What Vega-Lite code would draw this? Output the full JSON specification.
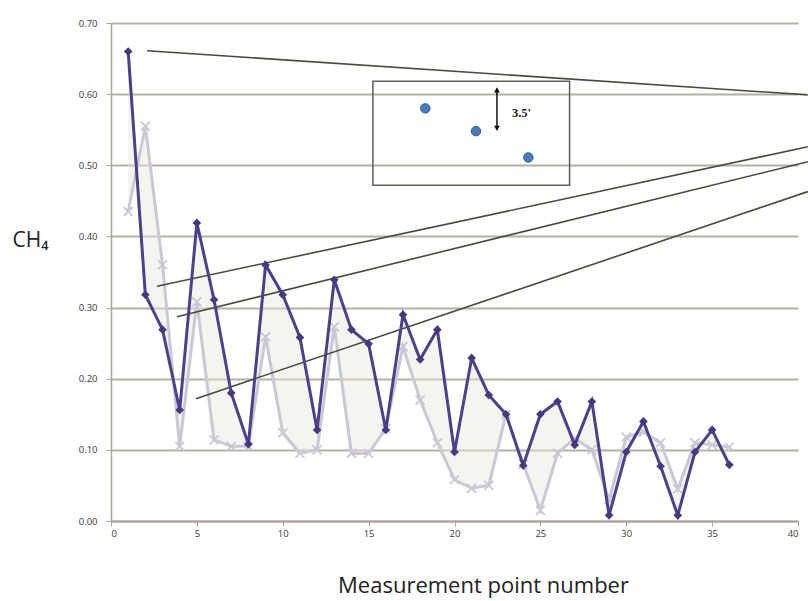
{
  "$schema": "https://vega.github.io/schema/vega-lite/v6.json",
  "width": 687,
  "height": 498,
  "autosize": "none",
  "padding": {"left": 111, "top": 23, "right": 10, "bottom": 80},
  "background": "white",
  "config": {
    "view": {"stroke": null},
    "font": "Open Sans"
  },
  "datasets": {
    "series": [
      {"point": 1, "a": 0.66, "b": 0.435},
      {"point": 2, "a": 0.318, "b": 0.555},
      {"point": 3, "a": 0.269, "b": 0.36},
      {"point": 4, "a": 0.156, "b": 0.105},
      {"point": 5, "a": 0.419, "b": 0.308},
      {"point": 6, "a": 0.311, "b": 0.114},
      {"point": 7, "a": 0.18, "b": 0.105},
      {"point": 8, "a": 0.108, "b": 0.105},
      {"point": 9, "a": 0.36, "b": 0.259},
      {"point": 10, "a": 0.318, "b": 0.124},
      {"point": 11, "a": 0.258, "b": 0.095},
      {"point": 12, "a": 0.128, "b": 0.1},
      {"point": 13, "a": 0.339, "b": 0.273},
      {"point": 14, "a": 0.269, "b": 0.095},
      {"point": 15, "a": 0.249, "b": 0.095},
      {"point": 16, "a": 0.128, "b": 0.13},
      {"point": 17, "a": 0.29, "b": 0.245},
      {"point": 18, "a": 0.227, "b": 0.17},
      {"point": 19, "a": 0.269, "b": 0.11},
      {"point": 20, "a": 0.097, "b": 0.058},
      {"point": 21, "a": 0.229, "b": 0.046},
      {"point": 22, "a": 0.177, "b": 0.05},
      {"point": 23, "a": 0.15, "b": 0.15},
      {"point": 24, "a": 0.078, "b": 0.08},
      {"point": 25, "a": 0.15, "b": 0.015},
      {"point": 26, "a": 0.168, "b": 0.095},
      {"point": 27, "a": 0.107, "b": 0.116},
      {"point": 28, "a": 0.168, "b": 0.1},
      {"point": 29, "a": 0.008, "b": 0.03},
      {"point": 30, "a": 0.097, "b": 0.118},
      {"point": 31, "a": 0.14, "b": 0.125},
      {"point": 32, "a": 0.077, "b": 0.11},
      {"point": 33, "a": 0.008, "b": 0.045},
      {"point": 34, "a": 0.097, "b": 0.11},
      {"point": 35, "a": 0.128, "b": 0.107},
      {"point": 36, "a": 0.079, "b": 0.104}
    ],
    "leaders": [
      {"x": 2.1, "y": 0.661, "x2": 40.57, "y2": 0.599},
      {"x": 2.68, "y": 0.33, "x2": 40.57, "y2": 0.526},
      {"x": 3.84, "y": 0.287, "x2": 40.57, "y2": 0.505},
      {"x": 4.95, "y": 0.172, "x2": 40.57, "y2": 0.463}
    ],
    "box": [{"x": 15.25, "x2": 26.7, "y": 0.618, "y2": 0.472}],
    "dots": [
      {"x": 18.3, "y": 0.58},
      {"x": 21.25, "y": 0.548},
      {"x": 24.3, "y": 0.511}
    ],
    "arrow": [{"x": 22.47, "y": 0.608, "y2": 0.55}],
    "heads": [
      {"x": 22.47, "y": 0.606, "dir": "triangle-up"},
      {"x": 22.47, "y": 0.552, "dir": "triangle-down"}
    ],
    "label": [{"x": 23.9, "y": 0.574, "t": "3.5'"}]
  },
  "layer": [
    {
      "data": {"name": "series"},
      "mark": {"type": "area", "color": "#ebe7dc", "opacity": 0.45},
      "encoding": {
        "x": {
          "field": "point", "type": "quantitative",
          "scale": {"domain": [0, 40], "nice": false},
          "axis": {
            "values": [0, 5, 10, 15, 20, 25, 30, 35, 40],
            "grid": false,
            "domainColor": "#aaa596", "domainWidth": 2,
            "tickColor": "#aaa596", "tickSize": 5, "tickWidth": 1,
            "labelFont": "Open Sans", "labelFontSize": 9.5, "labelColor": "#3a3a3a",
            "labelPadding": 2,
            "title": "Measurement point number",
            "titleFont": "Open Sans", "titleFontSize": 22, "titleFontWeight": "normal",
            "titleColor": "#222222",
            "titleX": 372, "titleY": 71, "titleAlign": "center", "titleBaseline": "alphabetic"
          }
        },
        "y": {
          "field": "a", "type": "quantitative",
          "scale": {"domain": [0, 0.7], "nice": false},
          "axis": {
            "values": [0, 0.1, 0.2, 0.3, 0.4, 0.5, 0.6, 0.7],
            "format": ".2f",
            "grid": true, "gridColor": "#b5b0a1", "gridWidth": 2,
            "domainColor": "#aaa596", "domainWidth": 1.5,
            "tickColor": "#aaa596", "tickSize": 5, "tickWidth": 1,
            "labelFont": "Open Sans", "labelFontSize": 9.5, "labelColor": "#3a3a3a",
            "labelPadding": 9,
            "title": "CH₄",
            "titleFont": "Open Sans", "titleFontSize": 21, "titleFontWeight": "normal",
            "titleColor": "#222222", "titleAngle": 0,
            "titleX": -99, "titleY": 217, "titleAlign": "left", "titleBaseline": "middle"
          }
        },
        "y2": {"field": "b"}
      }
    },
    {
      "data": {"name": "series"},
      "mark": {"type": "line", "color": "#cbc7d4", "strokeWidth": 3},
      "encoding": {
        "x": {"field": "point", "type": "quantitative"},
        "y": {"field": "b", "type": "quantitative"}
      }
    },
    {
      "data": {"name": "series"},
      "mark": {"type": "point", "shape": "M-1,-1L1,1M-1,1L1,-1", "filled": false, "color": "#cbc7d4", "strokeWidth": 1.8, "size": 80, "opacity": 1},
      "encoding": {
        "x": {"field": "point", "type": "quantitative"},
        "y": {"field": "b", "type": "quantitative"}
      }
    },
    {
      "data": {"name": "leaders"},
      "mark": {"type": "rule", "color": "#4a4a3e", "strokeWidth": 1.6},
      "encoding": {
        "x": {"field": "x", "type": "quantitative"},
        "y": {"field": "y", "type": "quantitative"},
        "x2": {"field": "x2"},
        "y2": {"field": "y2"}
      }
    },
    {
      "data": {"name": "series"},
      "mark": {"type": "line", "color": "#4e3f8c", "strokeWidth": 3},
      "encoding": {
        "x": {"field": "point", "type": "quantitative"},
        "y": {"field": "a", "type": "quantitative"}
      }
    },
    {
      "data": {"name": "series"},
      "mark": {"type": "point", "shape": "diamond", "filled": true, "color": "#47387f", "size": 75, "opacity": 1},
      "encoding": {
        "x": {"field": "point", "type": "quantitative"},
        "y": {"field": "a", "type": "quantitative"}
      }
    },
    {
      "data": {"name": "box"},
      "mark": {"type": "rect", "fill": null, "fillOpacity": 0, "stroke": "#5e5e54", "strokeWidth": 1.5},
      "encoding": {
        "x": {"field": "x", "type": "quantitative"},
        "x2": {"field": "x2"},
        "y": {"field": "y", "type": "quantitative"},
        "y2": {"field": "y2"}
      }
    },
    {
      "data": {"name": "dots"},
      "mark": {"type": "point", "shape": "circle", "filled": true, "color": "#4a7bb8", "stroke": "#2e5a8e", "strokeWidth": 1, "size": 90, "opacity": 1},
      "encoding": {
        "x": {"field": "x", "type": "quantitative"},
        "y": {"field": "y", "type": "quantitative"}
      }
    },
    {
      "data": {"name": "arrow"},
      "mark": {"type": "rule", "color": "#111111", "strokeWidth": 1.5},
      "encoding": {
        "x": {"field": "x", "type": "quantitative"},
        "y": {"field": "y", "type": "quantitative"},
        "y2": {"field": "y2"}
      }
    },
    {
      "data": {"name": "heads"},
      "mark": {"type": "point", "filled": true, "color": "#111111", "size": 35, "opacity": 1},
      "encoding": {
        "x": {"field": "x", "type": "quantitative"},
        "y": {"field": "y", "type": "quantitative"},
        "shape": {"field": "dir", "type": "nominal", "scale": {"domain": ["triangle-up", "triangle-down"], "range": ["triangle-up", "triangle-down"]}, "legend": null}
      }
    },
    {
      "data": {"name": "label"},
      "mark": {"type": "text", "font": "Liberation Serif", "fontWeight": "bold", "fontSize": 12.5, "color": "#222222", "align": "center", "baseline": "middle"},
      "encoding": {
        "x": {"field": "x", "type": "quantitative"},
        "y": {"field": "y", "type": "quantitative"},
        "text": {"field": "t"}
      }
    }
  ]
}
